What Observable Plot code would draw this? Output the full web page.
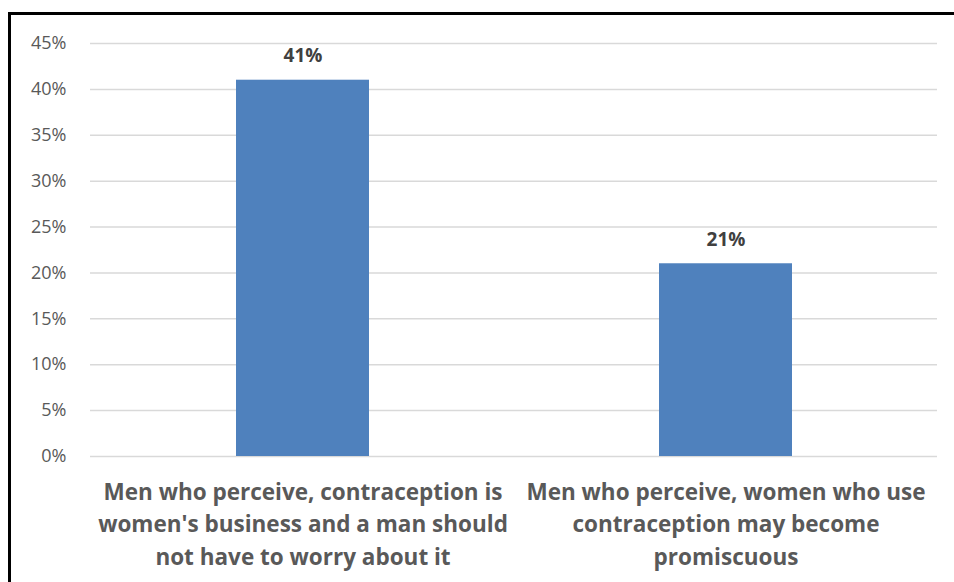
<!DOCTYPE html>
<html>
<head>
<meta charset="utf-8">
<script src="https://cdn.jsdelivr.net/npm/d3@7"></script>
<script src="https://cdn.jsdelivr.net/npm/@observablehq/plot@0.6"></script>
<style>
  html, body { margin: 0; padding: 0; background: #fff; }
  #wrap { position: relative; width: 954px; height: 582px; overflow: hidden; }
  #frame { position: absolute; left: 8px; top: 12px; width: 1000px; height: 700px; border-left: 3px solid #000; border-top: 3px solid #000; box-sizing: border-box; pointer-events: none; }
  #chart { position: absolute; left: 0; top: 0; }
</style>
</head>
<body>
<div id="wrap"><div id="chart"></div><div id="frame"></div></div>
<script>
const categories = ["A", "B"];
const labels = [
  "Men who perceive, contraception is\nwomen's business and a man should\nnot have to worry about it",
  "Men who perceive, women who use\ncontraception may become\npromiscuous"
];
const values = [0.41, 0.21];
const yTicks = [0, 0.05, 0.10, 0.15, 0.20, 0.25, 0.30, 0.35, 0.40, 0.45];

const data = categories.map((c, i) => ({cat: c, label: labels[i], value: values[i]}));
const font = "'Open Sans', sans-serif";

const chart = Plot.plot({
  width: 954,
  height: 582,
  marginLeft: 90,
  marginRight: 17,
  marginTop: 43,
  marginBottom: 126,
  style: {fontFamily: font, background: "transparent"},
  x: {domain: categories, paddingInner: 0.686, paddingOuter: 0.343, axis: null},
  y: {domain: [0, 0.45], axis: null},
  marks: [
    Plot.ruleY(yTicks, {stroke: "#d9d9d9", strokeWidth: 1.5}),
    Plot.text(yTicks, {x: null, y: d => d, frameAnchor: "left", dx: -24, textAnchor: "end", text: d => Math.round(d * 100) + "%", fontSize: 18, fill: "#595959"}),
    Plot.barY(data, {x: "cat", y: "value", fill: "#4f81bd"}),
    Plot.text(data, {x: "cat", y: "value", text: d => Math.round(d.value * 100) + "%", dy: -24, fontSize: 19, fontWeight: "bold", fill: "#404040"}),
    Plot.text(data, {x: "cat", y: 0, text: "label", lineAnchor: "top", dy: 20, lineHeight: 1.45, fontSize: 22.5, fontWeight: "bold", fill: "#595959"})
  ]
});
document.getElementById("chart").appendChild(chart);
</script>
</body>
</html>
